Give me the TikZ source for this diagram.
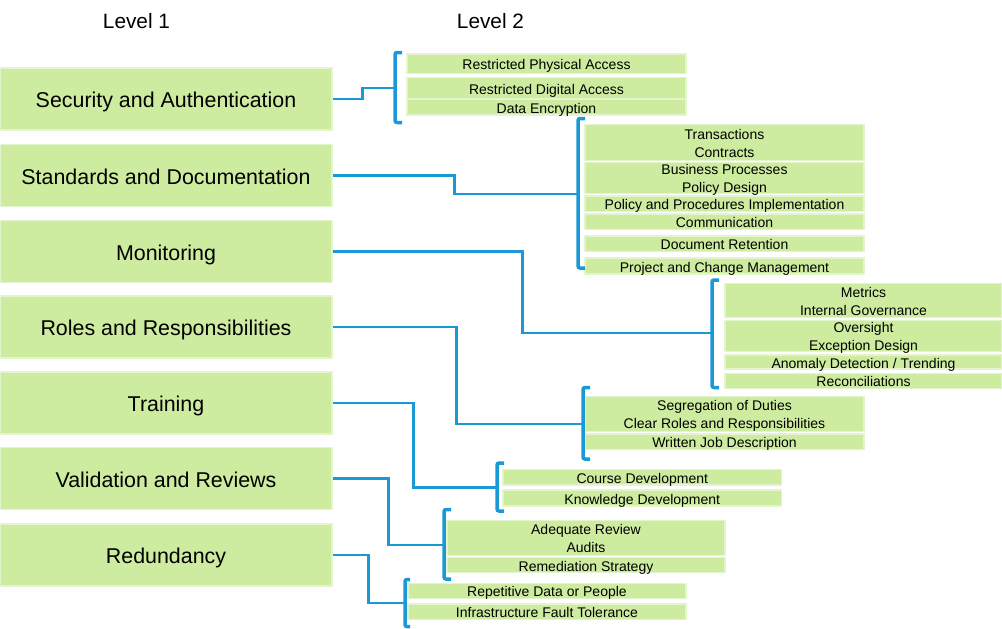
\documentclass[tikz,border=0pt]{standalone}
\usepackage{fontspec}
\setmainfont{Liberation Sans}
\definecolor{boxgreen}{RGB}{205,236,160}
\definecolor{boxedge}{RGB}{228,245,205}
\definecolor{linkblue}{RGB}{27,153,214}
\newcommand\twolines[2]{\raisebox{0pt}[10pt][17pt]{\begin{tabular}[t]{@{}c@{}}#1\\#2\end{tabular}}}
\begin{document}
\begin{tikzpicture}[x=1pt,y=-1pt,
  lone/.style={fill=boxgreen,draw=boxedge,line width=1.5pt,minimum width=332pt,minimum height=62pt,inner sep=0pt,
    font=\fontsize{21.4}{25}\selectfont,text height=17pt,text depth=0pt},
  ltwo/.style={fill=boxgreen,draw=boxedge,line width=1.2pt,inner sep=0pt,
    font=\fontsize{14}{18}\selectfont,text height=12pt,text depth=0pt},
  ltwob/.style={fill=boxgreen,draw=boxedge,line width=1.2pt,inner sep=0pt,
    font=\fontsize{14}{18}\selectfont},
  title/.style={font=\fontsize{20.8}{24}\selectfont,text height=15pt,text depth=0pt,inner sep=0pt},
  conn/.style={draw=linkblue,line width=2.8pt},
  brk/.style={draw=linkblue,line width=3.5pt,rounded corners=2pt}]
\useasboundingbox (0,0) rectangle (1002,629);

% titles
\node[title] (t1) at (136.5,21) {Level 1};
\node[title] (t2) at (490.5,21) {Level 2};

% Level 1
\node[lone] (s1) at (166,99) {Security and Authentication};
\node[lone] (s2) at (166,175.5) {Standards and Documentation};
\node[lone] (s3) at (166,251.5) {Monitoring};
\node[lone] (s4) at (166,327) {Roles and Responsibilities};
\node[lone] (s5) at (166,403) {Training};
\node[lone] (s6) at (166,478.5) {Validation and Reviews};
\node[lone] (s7) at (166,555) {Redundancy};

% Group 1
\node[ltwo,minimum width=279pt,minimum height=19.5pt] (a1) at (546.5,63.7) {Restricted Physical Access};
\node[ltwo,minimum width=279pt,minimum height=21pt] (a2) at (546.5,88.3) {Restricted Digital Access};
\node[ltwo,minimum width=279pt,minimum height=15.5pt] (a3) at (546.5,107.3) {Data Encryption};

% Group 2
\node[ltwob,minimum width=279pt,minimum height=36pt] (b1) at (724.5,142.5) {\twolines{Transactions}{Contracts}};
\node[ltwob,minimum width=279pt,minimum height=31.6pt] (b2) at (724.5,178) {\twolines{Business Processes}{Policy Design}};
\node[ltwo,minimum width=279pt,minimum height=15.7pt] (b3) at (724.5,203.8) {Policy and Procedures Implementation};
\node[ltwo,minimum width=279pt,minimum height=15.3pt] (b4) at (724.5,221.7) {Communication};
\node[ltwo,minimum width=279pt,minimum height=15.7pt] (b5) at (724.5,243.8) {Document Retention};
\node[ltwo,minimum width=279pt,minimum height=16pt] (b6) at (724.5,266) {Project and Change Management};

% Group 3
\node[ltwob,minimum width=277pt,minimum height=33.4pt] (c1) at (863.5,300.5) {\twolines{Metrics}{Internal Governance}};
\node[ltwob,minimum width=277pt,minimum height=31.7pt] (c2) at (863.5,336) {\twolines{Oversight}{Exception Design}};
\node[ltwo,minimum width=277pt,minimum height=14pt] (c3) at (863.5,362) {Anomaly Detection / Trending};
\node[ltwo,minimum width=277pt,minimum height=15pt] (c4) at (863.5,380.8) {Reconciliations};

% Group 4
\node[ltwob,minimum width=279pt,minimum height=35.7pt] (d1) at (724.5,414) {\twolines{Segregation of Duties}{Clear Roles and Responsibilities}};
\node[ltwo,minimum width=279pt,minimum height=15.3pt] (d2) at (724.5,441.7) {Written Job Description};

% Group 5
\node[ltwo,minimum width=278.7pt,minimum height=15.7pt] (e1) at (642.3,477.2) {Course Development};
\node[ltwo,minimum width=278.7pt,minimum height=16pt] (e2) at (642.3,498) {Knowledge Development};

% Group 6
\node[ltwob,minimum width=278pt,minimum height=35pt] (f1) at (586,537.8) {\twolines{Adequate Review}{Audits}};
\node[ltwo,minimum width=278pt,minimum height=15pt] (f2) at (586,565.2) {Remediation Strategy};

% Group 7
\node[ltwo,minimum width=278pt,minimum height=15pt] (g1) at (547,590.8) {Repetitive Data or People};
\node[ltwo,minimum width=278pt,minimum height=15.3pt] (g2) at (547,611.7) {Infrastructure Fault Tolerance};

% bracket coordinates
\coordinate (k1t) at (395,52.5);  \coordinate (k1b) at (395,122.5); \coordinate (k1) at (395,88);
\coordinate (k2t) at (578,118.5); \coordinate (k2b) at (578,268);   \coordinate (k2) at (578,194);
\coordinate (k3t) at (712,280);   \coordinate (k3b) at (712,387.5); \coordinate (k3) at (712,333);
\coordinate (k4t) at (583,387.5); \coordinate (k4b) at (583,459);   \coordinate (k4) at (583,424);
\coordinate (k5t) at (497,463);   \coordinate (k5b) at (497,511);   \coordinate (k5) at (497,487.5);
\coordinate (k6t) at (444,509.5); \coordinate (k6b) at (444,579);   \coordinate (k6) at (444,545);
\coordinate (k7t) at (405,579.5); \coordinate (k7b) at (405,626.5); \coordinate (k7) at (405,603);

% brackets
\foreach \k in {k1,k2,k3,k4,k5,k6} {
  \draw[brk] ([xshift=7pt]\k t) -- (\k t) -- (\k b) -- ([xshift=7pt]\k b);
}
\draw[brk] ([xshift=5pt]k7t) -- (k7t) -- (k7b) -- ([xshift=5pt]k7b);

% connectors
\draw[conn] (s1.east) -- ([xshift=30pt]s1.east) |- (k1);
\draw[conn] (s2.east) -- ([xshift=122pt]s2.east) |- (k2);
\draw[conn] (s3.east) -- ([xshift=189.5pt]s3.east) |- (k3);
\draw[conn] (s4.east) -- ([xshift=124pt]s4.east) |- (k4);
\draw[conn] (s5.east) -- ([xshift=81pt]s5.east) |- (k5);
\draw[conn] (s6.east) -- ([xshift=56pt]s6.east) |- (k6);
\draw[conn] (s7.east) -- ([xshift=36pt]s7.east) |- (k7);
\end{tikzpicture}
\end{document}
